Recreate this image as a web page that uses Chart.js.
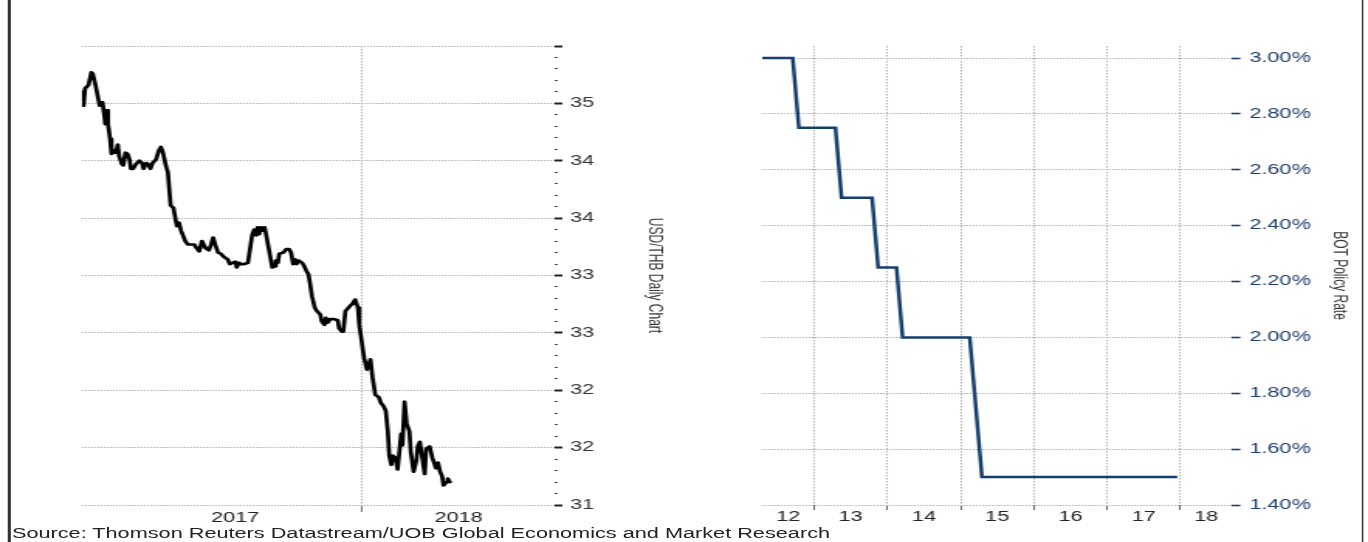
<!DOCTYPE html>
<html><head><meta charset="utf-8">
<script src="https://cdn.jsdelivr.net/npm/chart.js@4.4.0/dist/chart.umd.min.js"></script>
<style>
html,body{margin:0;padding:0;background:#fff;overflow:hidden;width:1368px;height:542px;}
#wrap{position:absolute;left:0;top:0;width:883px;height:542px;transform:scaleX(1.54926);transform-origin:0 0;}
canvas{position:absolute;top:0;}
#c1{left:6px;width:439px;height:542px;}
#c2{left:445px;width:432px;height:542px;}
#src{position:absolute;left:7.7px;top:525px;font:14px/16px "Liberation Sans",Arial,sans-serif;color:#222;white-space:nowrap;}
#bl{position:absolute;left:5.3px;top:0;width:1.3px;height:542px;background:#333;}
#br{position:absolute;left:878.7px;top:0;width:1.3px;height:542px;background:#333;}
</style></head><body>
<div id="wrap">
<canvas id="c1" width="439" height="542"></canvas>
<canvas id="c2" width="432" height="542"></canvas>
<div id="bl"></div><div id="br"></div>
<div id="src">Source: Thomson Reuters Datastream/UOB Global Economics and Market Research</div>
</div>
<script>
// ---------- Left chart: USD/THB daily (x = days from 1 Jan 2017) ----------
const usdDay = [
  -37,-35,-33,-28,-24,-22,-18,-15,-12,-8,
  -5,-4,-1,0,3,5,9,11,14,16,
  20,22,25,28,31,33,36,40,45,49,
  51,55,58,61,64,69,73,76,79,83,
  86,88,90,94,97,99,102,105,107,111,
  115,119,124,127,131,135,140,145,148,151,
  154,158,162,167,172,175,179,183,185,188,
  191,196,201,203,207,210,213,215,217,220,
  222,225,228,232,236,239,241,244,246,252,
  256,260,263,266,269,271,274,279,282,285,
  288,290,293,297,300,305,307,311,313,316,
  319,325,330,332,336,338,341,347,352,355,
  359,361,365,368,372,374,377,380,384,389,
  392,396,399,402,404,407,409,413,416,419,
  421,423,426,429,433,435,439,443,445,448,
  451,455,457,462,466,469,471,474,477,480,
  482,486,488,491
];
const usdThb = [
  35.10,34.98,35.13,35.16,35.27,35.26,35.16,35.07,34.98,35.01,
  34.88,34.82,34.94,34.82,34.69,34.56,34.59,34.57,34.64,34.54,
  34.47,34.46,34.57,34.56,34.51,34.43,34.43,34.47,34.50,34.48,
  34.43,34.48,34.47,34.43,34.48,34.51,34.59,34.62,34.57,34.46,
  34.40,34.25,34.11,34.09,33.99,33.93,33.96,33.89,33.86,33.80,
  33.77,33.77,33.77,33.74,33.71,33.80,33.74,33.72,33.77,33.83,
  33.77,33.70,33.69,33.66,33.64,33.60,33.61,33.62,33.57,33.61,
  33.60,33.60,33.61,33.61,33.85,33.90,33.85,33.92,33.86,33.92,
  33.89,33.92,33.83,33.70,33.57,33.58,33.63,33.61,33.69,33.70,
  33.73,33.73,33.70,33.60,33.64,33.60,33.63,33.61,33.58,33.54,
  33.51,33.44,33.32,33.22,33.19,33.16,33.10,33.07,33.13,33.09,
  33.12,33.12,33.11,33.04,33.01,33.01,33.19,33.23,33.26,33.29,
  33.22,33.07,32.90,32.78,32.68,32.71,32.77,32.61,32.46,32.44,
  32.39,32.36,32.32,32.14,31.93,31.85,31.93,31.91,31.81,31.99,
  32.12,32.02,32.40,32.21,32.14,31.96,31.79,31.89,32.01,32.05,
  31.93,31.77,31.99,32.01,31.91,31.86,31.82,31.87,31.79,31.75,
  31.67,31.70,31.73,31.70
];
const usdTickValues = [35.5,35.0,34.5,34.0,33.5,33.0,32.5,32.0,31.5];
const usdTickLabels = ['','35','34','34','33','33','32','32','31'];
const usdYears = [2017, 2018];
const usdYearLabels = ['2017','2018'];

// ---------- Right chart: BOT policy rate (monthly) ----------
const botMonths = ['2012-04','2012-09','2012-10','2013-04','2013-05','2013-10','2013-11',
                   '2014-02','2014-03','2015-02','2015-03','2015-04','2017-12'];
const botRate = [3.00,3.00,2.75,2.75,2.50,2.50,2.25,2.25,2.00,2.00,1.75,1.50,1.50];
const rateTickValues = [3.00,2.80,2.60,2.40,2.20,2.00,1.80,1.60,1.40];
const rateTickLabels = ['3.00%','2.80%','2.60%','2.40%','2.20%','2.00%','1.80%','1.60%','1.40%'];
const botYears = [2012,2013,2014,2015,2016,2017,2018];
const botYearLabels = ['12','13','14','15','16','17','18'];

// ---------- helpers ----------
const FONT = '"Liberation Sans", Arial, Helvetica, sans-serif';
Chart.defaults.font.family = FONT;
Chart.defaults.animation = false;

function monthToYear(m){ const p = m.split('-').map(Number); return p[0] + (p[1]-0.5)/12; }
function findIdx(arr, v){ return arr.findIndex(m => Math.abs(m - v) < 1e-9); }

function yearTicks(years, labels, startOf, min, max){
  const t = [];
  years.forEach((y, i) => {
    const s = Math.max(startOf(y), min), e = Math.min(startOf(y+1), max);
    t.push({value: (s+e)/2, lbl: labels[i], kind: 'label'});
    if (i > 0) t.push({value: startOf(y), lbl: '', kind: 'grid'});
  });
  return t.sort((a,b) => a.value - b.value);
}

function xAxis(years, labels, startOf, min, max, tickLen, tickColor, pad){
  return {
    type: 'linear', position: 'bottom', min: min, max: max,
    afterBuildTicks: s => { s.ticks = yearTicks(years, labels, startOf, min, max); },
    afterFit: s => { s.height = tickLen + 14; },
    border: {display: false, dash: [1.5, 1.5]},
    grid: {
      color: c => (c.tick && c.tick.kind === 'grid') ? '#b0b0b0' : 'rgba(0,0,0,0)',
      tickColor: c => (c.tick && c.tick.kind === 'grid') ? tickColor : 'rgba(0,0,0,0)',
      lineWidth: 1, tickLength: tickLen, tickWidth: 1
    },
    ticks: {
      autoSkip: false, maxRotation: 0, minRotation: 0, padding: pad, color: '#222',
      font: {size: 14, lineHeight: 1},
      callback: (v, i, ts) => ts[i] ? ts[i].lbl : ''
    }
  };
}

// ---------- Left chart ----------
const USD_MIN = -37.4, USD_MAX = 642.3;
const dayOfYear = y => (y - 2017) * 365;
new Chart(document.getElementById('c1'), {
  type: 'line',
  data: { datasets: [{
    data: usdDay.map((d, i) => ({x: d, y: usdThb[i]})),
    borderColor: '#000', borderWidth: 2.7, pointRadius: 0, tension: 0,
    borderJoinStyle: 'round', borderCapStyle: 'round'
  }]},
  options: {
    responsive: false, devicePixelRatio: 1, animation: false,
    layout: {padding: {left: 46.9, right: 15.6, top: 46, bottom: 16}},
    plugins: {legend: {display: false}, tooltip: {enabled: false}},
    scales: {
      x: xAxis(usdYears, usdYearLabels, dayOfYear, USD_MIN, USD_MAX, 7, '#777', -1),
      y: {
        type: 'linear', position: 'right', min: 31.5, max: 35.5,
        afterBuildTicks: s => {
          const t = [];
          for (let k = 0; k <= 40; k++) {
            const v = (315 + k) / 10;
            t.push({value: v, isMajor: findIdx(usdTickValues, v) >= 0});
          }
          s.ticks = t;
        },
        afterFit: s => { s.width = 71.1; },
        border: {display: false, dash: [1, 1]},
        grid: {
          color: c => (c.tick && c.tick.isMajor) ? '#a8a8a8' : 'rgba(0,0,0,0)',
          lineWidth: 1,
          tickLength: 4.7,
          tickColor: c => (c.tick && c.tick.isMajor) ? '#222' : '#444',
          tickWidth: c => (c.tick && c.tick.isMajor) ? 2 : 1,
          tickBorderDash: c => (c.tick && c.tick.isMajor) ? [] : [2, 40]
        },
        ticks: {
          autoSkip: false, padding: 5, color: '#333', font: {size: 14},
          callback: (v, i, ts) => {
            if (!ts[i] || !ts[i].isMajor) return '';
            return usdTickLabels[findIdx(usdTickValues, v)];
          }
        },
        title: {display: true, text: 'USD/THB Daily Chart', color: '#333',
                font: {size: 12}, padding: {top: 0, bottom: 0}}
      }
    }
  }
});

// ---------- Right chart ----------
const BOT_MIN = 2012.290, BOT_MAX = 2018.710;
new Chart(document.getElementById('c2'), {
  type: 'line',
  data: { datasets: [{
    data: botMonths.map((m, i) => ({x: monthToYear(m), y: botRate[i]})),
    borderColor: '#163F6E', borderWidth: 2.5, pointRadius: 0, tension: 0,
    borderJoinStyle: 'miter'
  }]},
  options: {
    responsive: false, devicePixelRatio: 1, animation: false,
    layout: {padding: {left: 46.9, right: 5.8, top: 46, bottom: 18}},
    plugins: {legend: {display: false}, tooltip: {enabled: false}},
    scales: {
      x: xAxis(botYears, botYearLabels, y => y, BOT_MIN, BOT_MAX, 5, '#666', 0),
      y: {
        type: 'linear', position: 'right', min: 1.40, max: 3.043,
        afterBuildTicks: s => {
          s.ticks = rateTickValues.map(v => ({value: v})).sort((a,b) => a.value - b.value);
        },
        afterFit: s => { s.width = 75.8; },
        border: {display: false, dash: [1, 1]},
        grid: {color: '#a8a8a8', lineWidth: 1, tickLength: 5.2, tickColor: '#1F3D6B', tickWidth: 1.6},
        ticks: {
          autoSkip: false, padding: 5.8, color: '#1F3D6B', font: {size: 14},
          callback: v => rateTickLabels[findIdx(rateTickValues, v)]
        },
        title: {display: true, text: 'BOT Policy Rate', color: '#333',
                font: {size: 12}, padding: {top: 0, bottom: 0}}
      }
    }
  }
});
</script>
</body></html>
